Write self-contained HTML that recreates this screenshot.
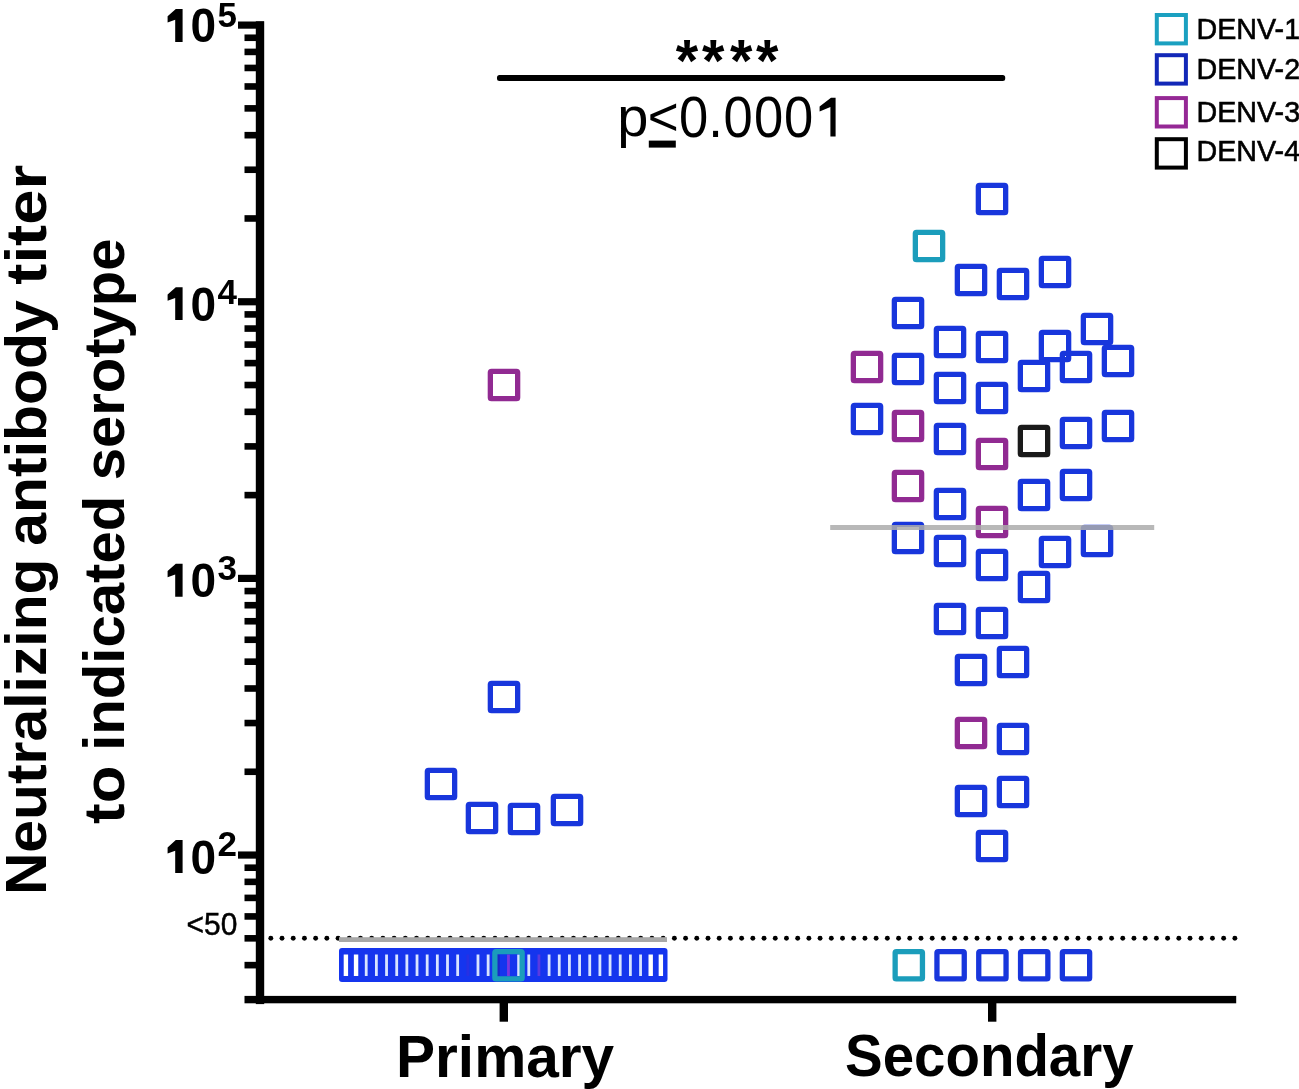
<!DOCTYPE html>
<html><head><meta charset="utf-8"><title>Neutralizing antibody titer</title>
<style>html,body{margin:0;padding:0;background:#fff;}body{width:1299px;height:1089px;position:relative;overflow:hidden;font-family:"Liberation Sans",sans-serif}</style>
</head><body>
<div style="position:absolute;left:0;top:0;width:1299px;height:1089px;filter:blur(0.4px)">
<svg width="1299" height="1089" viewBox="0 0 1299 1089" style="position:absolute;left:0;top:0">
<rect x="255.8" y="21.3" width="8.4" height="982.8" fill="#000"/>
<rect x="238" y="851.45" width="26" height="7.2" fill="#000"/>
<rect x="238" y="574.80" width="26" height="7.2" fill="#000"/>
<rect x="238" y="298.15" width="26" height="7.2" fill="#000"/>
<rect x="238" y="21.50" width="26" height="7.2" fill="#000"/>
<rect x="244.5" y="961.84" width="19.5" height="6.6" fill="#000"/>
<rect x="244.5" y="935.03" width="19.5" height="6.6" fill="#000"/>
<rect x="244.5" y="913.12" width="19.5" height="6.6" fill="#000"/>
<rect x="244.5" y="894.60" width="19.5" height="6.6" fill="#000"/>
<rect x="244.5" y="878.56" width="19.5" height="6.6" fill="#000"/>
<rect x="244.5" y="864.41" width="19.5" height="6.6" fill="#000"/>
<rect x="244.5" y="768.47" width="19.5" height="6.6" fill="#000"/>
<rect x="244.5" y="719.75" width="19.5" height="6.6" fill="#000"/>
<rect x="244.5" y="685.19" width="19.5" height="6.6" fill="#000"/>
<rect x="244.5" y="658.38" width="19.5" height="6.6" fill="#000"/>
<rect x="244.5" y="636.47" width="19.5" height="6.6" fill="#000"/>
<rect x="244.5" y="617.95" width="19.5" height="6.6" fill="#000"/>
<rect x="244.5" y="601.91" width="19.5" height="6.6" fill="#000"/>
<rect x="244.5" y="587.76" width="19.5" height="6.6" fill="#000"/>
<rect x="244.5" y="491.82" width="19.5" height="6.6" fill="#000"/>
<rect x="244.5" y="443.10" width="19.5" height="6.6" fill="#000"/>
<rect x="244.5" y="408.54" width="19.5" height="6.6" fill="#000"/>
<rect x="244.5" y="381.73" width="19.5" height="6.6" fill="#000"/>
<rect x="244.5" y="359.82" width="19.5" height="6.6" fill="#000"/>
<rect x="244.5" y="341.30" width="19.5" height="6.6" fill="#000"/>
<rect x="244.5" y="325.26" width="19.5" height="6.6" fill="#000"/>
<rect x="244.5" y="311.11" width="19.5" height="6.6" fill="#000"/>
<rect x="244.5" y="215.17" width="19.5" height="6.6" fill="#000"/>
<rect x="244.5" y="166.45" width="19.5" height="6.6" fill="#000"/>
<rect x="244.5" y="131.89" width="19.5" height="6.6" fill="#000"/>
<rect x="244.5" y="105.08" width="19.5" height="6.6" fill="#000"/>
<rect x="244.5" y="83.17" width="19.5" height="6.6" fill="#000"/>
<rect x="244.5" y="64.65" width="19.5" height="6.6" fill="#000"/>
<rect x="244.5" y="48.61" width="19.5" height="6.6" fill="#000"/>
<rect x="244.5" y="34.46" width="19.5" height="6.6" fill="#000"/>
<rect x="244.5" y="995.9" width="991.7" height="7.4" fill="#000"/>
<rect x="499.6" y="1000" width="8.4" height="21.7" fill="#000"/>
<rect x="988.0" y="1000" width="8.4" height="21.7" fill="#000"/>
<g fill="#000"><circle cx="270.80" cy="938.2" r="2.45"/><circle cx="282.01" cy="938.2" r="2.45"/><circle cx="293.22" cy="938.2" r="2.45"/><circle cx="304.43" cy="938.2" r="2.45"/><circle cx="315.64" cy="938.2" r="2.45"/><circle cx="326.85" cy="938.2" r="2.45"/><circle cx="338.06" cy="938.2" r="2.45"/><circle cx="349.27" cy="938.2" r="2.45"/><circle cx="360.48" cy="938.2" r="2.45"/><circle cx="371.69" cy="938.2" r="2.45"/><circle cx="382.90" cy="938.2" r="2.45"/><circle cx="394.11" cy="938.2" r="2.45"/><circle cx="405.32" cy="938.2" r="2.45"/><circle cx="416.53" cy="938.2" r="2.45"/><circle cx="427.74" cy="938.2" r="2.45"/><circle cx="438.95" cy="938.2" r="2.45"/><circle cx="450.16" cy="938.2" r="2.45"/><circle cx="461.37" cy="938.2" r="2.45"/><circle cx="472.58" cy="938.2" r="2.45"/><circle cx="483.79" cy="938.2" r="2.45"/><circle cx="495.00" cy="938.2" r="2.45"/><circle cx="506.21" cy="938.2" r="2.45"/><circle cx="517.42" cy="938.2" r="2.45"/><circle cx="528.63" cy="938.2" r="2.45"/><circle cx="539.84" cy="938.2" r="2.45"/><circle cx="551.05" cy="938.2" r="2.45"/><circle cx="562.26" cy="938.2" r="2.45"/><circle cx="573.47" cy="938.2" r="2.45"/><circle cx="584.68" cy="938.2" r="2.45"/><circle cx="595.89" cy="938.2" r="2.45"/><circle cx="607.10" cy="938.2" r="2.45"/><circle cx="618.31" cy="938.2" r="2.45"/><circle cx="629.52" cy="938.2" r="2.45"/><circle cx="640.73" cy="938.2" r="2.45"/><circle cx="651.94" cy="938.2" r="2.45"/><circle cx="663.15" cy="938.2" r="2.45"/><circle cx="674.36" cy="938.2" r="2.45"/><circle cx="685.57" cy="938.2" r="2.45"/><circle cx="696.78" cy="938.2" r="2.45"/><circle cx="707.99" cy="938.2" r="2.45"/><circle cx="719.20" cy="938.2" r="2.45"/><circle cx="730.41" cy="938.2" r="2.45"/><circle cx="741.62" cy="938.2" r="2.45"/><circle cx="752.83" cy="938.2" r="2.45"/><circle cx="764.04" cy="938.2" r="2.45"/><circle cx="775.25" cy="938.2" r="2.45"/><circle cx="786.46" cy="938.2" r="2.45"/><circle cx="797.67" cy="938.2" r="2.45"/><circle cx="808.88" cy="938.2" r="2.45"/><circle cx="820.09" cy="938.2" r="2.45"/><circle cx="831.30" cy="938.2" r="2.45"/><circle cx="842.51" cy="938.2" r="2.45"/><circle cx="853.72" cy="938.2" r="2.45"/><circle cx="864.93" cy="938.2" r="2.45"/><circle cx="876.14" cy="938.2" r="2.45"/><circle cx="887.35" cy="938.2" r="2.45"/><circle cx="898.56" cy="938.2" r="2.45"/><circle cx="909.77" cy="938.2" r="2.45"/><circle cx="920.98" cy="938.2" r="2.45"/><circle cx="932.19" cy="938.2" r="2.45"/><circle cx="943.40" cy="938.2" r="2.45"/><circle cx="954.61" cy="938.2" r="2.45"/><circle cx="965.82" cy="938.2" r="2.45"/><circle cx="977.03" cy="938.2" r="2.45"/><circle cx="988.24" cy="938.2" r="2.45"/><circle cx="999.45" cy="938.2" r="2.45"/><circle cx="1010.66" cy="938.2" r="2.45"/><circle cx="1021.87" cy="938.2" r="2.45"/><circle cx="1033.08" cy="938.2" r="2.45"/><circle cx="1044.29" cy="938.2" r="2.45"/><circle cx="1055.50" cy="938.2" r="2.45"/><circle cx="1066.71" cy="938.2" r="2.45"/><circle cx="1077.92" cy="938.2" r="2.45"/><circle cx="1089.13" cy="938.2" r="2.45"/><circle cx="1100.34" cy="938.2" r="2.45"/><circle cx="1111.55" cy="938.2" r="2.45"/><circle cx="1122.76" cy="938.2" r="2.45"/><circle cx="1133.97" cy="938.2" r="2.45"/><circle cx="1145.18" cy="938.2" r="2.45"/><circle cx="1156.39" cy="938.2" r="2.45"/><circle cx="1167.60" cy="938.2" r="2.45"/><circle cx="1178.81" cy="938.2" r="2.45"/><circle cx="1190.02" cy="938.2" r="2.45"/><circle cx="1201.23" cy="938.2" r="2.45"/><circle cx="1212.44" cy="938.2" r="2.45"/><circle cx="1223.65" cy="938.2" r="2.45"/><circle cx="1234.86" cy="938.2" r="2.45"/></g>
<rect x="339" y="937.2" width="328" height="4.8" fill="#a8a8a8"/>
<rect x="497" y="75.1" width="508.2" height="6" rx="2.5" fill="#000"/>
<rect x="978.35" y="185.35" width="27.3" height="27.3" rx="1.2" fill="none" stroke="#1836dc" stroke-width="5.3" stroke-linejoin="round"/>
<rect x="915.35" y="232.35" width="27.3" height="27.3" rx="1.2" fill="none" stroke="#1b9dbb" stroke-width="5.3" stroke-linejoin="round"/>
<rect x="957.35" y="266.35" width="27.3" height="27.3" rx="1.2" fill="none" stroke="#1836dc" stroke-width="5.3" stroke-linejoin="round"/>
<rect x="999.35" y="270.35" width="27.3" height="27.3" rx="1.2" fill="none" stroke="#1836dc" stroke-width="5.3" stroke-linejoin="round"/>
<rect x="1041.35" y="258.35" width="27.3" height="27.3" rx="1.2" fill="none" stroke="#1836dc" stroke-width="5.3" stroke-linejoin="round"/>
<rect x="894.35" y="299.35" width="27.3" height="27.3" rx="1.2" fill="none" stroke="#1836dc" stroke-width="5.3" stroke-linejoin="round"/>
<rect x="936.35" y="328.35" width="27.3" height="27.3" rx="1.2" fill="none" stroke="#1836dc" stroke-width="5.3" stroke-linejoin="round"/>
<rect x="978.35" y="333.35" width="27.3" height="27.3" rx="1.2" fill="none" stroke="#1836dc" stroke-width="5.3" stroke-linejoin="round"/>
<rect x="1041.35" y="332.35" width="27.3" height="27.3" rx="1.2" fill="none" stroke="#1836dc" stroke-width="5.3" stroke-linejoin="round"/>
<rect x="1083.35" y="315.35" width="27.3" height="27.3" rx="1.2" fill="none" stroke="#1836dc" stroke-width="5.3" stroke-linejoin="round"/>
<rect x="853.35" y="353.35" width="27.3" height="27.3" rx="1.2" fill="none" stroke="#912a92" stroke-width="5.3" stroke-linejoin="round"/>
<rect x="894.35" y="355.35" width="27.3" height="27.3" rx="1.2" fill="none" stroke="#1836dc" stroke-width="5.3" stroke-linejoin="round"/>
<rect x="1020.35" y="362.35" width="27.3" height="27.3" rx="1.2" fill="none" stroke="#1836dc" stroke-width="5.3" stroke-linejoin="round"/>
<rect x="1062.35" y="353.35" width="27.3" height="27.3" rx="1.2" fill="none" stroke="#1836dc" stroke-width="5.3" stroke-linejoin="round"/>
<rect x="1104.35" y="347.35" width="27.3" height="27.3" rx="1.2" fill="none" stroke="#1836dc" stroke-width="5.3" stroke-linejoin="round"/>
<rect x="936.35" y="374.35" width="27.3" height="27.3" rx="1.2" fill="none" stroke="#1836dc" stroke-width="5.3" stroke-linejoin="round"/>
<rect x="978.35" y="384.35" width="27.3" height="27.3" rx="1.2" fill="none" stroke="#1836dc" stroke-width="5.3" stroke-linejoin="round"/>
<rect x="853.35" y="405.35" width="27.3" height="27.3" rx="1.2" fill="none" stroke="#1836dc" stroke-width="5.3" stroke-linejoin="round"/>
<rect x="894.35" y="412.35" width="27.3" height="27.3" rx="1.2" fill="none" stroke="#912a92" stroke-width="5.3" stroke-linejoin="round"/>
<rect x="936.35" y="425.35" width="27.3" height="27.3" rx="1.2" fill="none" stroke="#1836dc" stroke-width="5.3" stroke-linejoin="round"/>
<rect x="978.35" y="440.35" width="27.3" height="27.3" rx="1.2" fill="none" stroke="#912a92" stroke-width="5.3" stroke-linejoin="round"/>
<rect x="1020.35" y="427.35" width="27.3" height="27.3" rx="1.2" fill="none" stroke="#1a1a1a" stroke-width="5.3" stroke-linejoin="round"/>
<rect x="1062.35" y="419.35" width="27.3" height="27.3" rx="1.2" fill="none" stroke="#1836dc" stroke-width="5.3" stroke-linejoin="round"/>
<rect x="1104.35" y="412.35" width="27.3" height="27.3" rx="1.2" fill="none" stroke="#1836dc" stroke-width="5.3" stroke-linejoin="round"/>
<rect x="894.35" y="472.35" width="27.3" height="27.3" rx="1.2" fill="none" stroke="#912a92" stroke-width="5.3" stroke-linejoin="round"/>
<rect x="936.35" y="490.35" width="27.3" height="27.3" rx="1.2" fill="none" stroke="#1836dc" stroke-width="5.3" stroke-linejoin="round"/>
<rect x="1020.35" y="481.35" width="27.3" height="27.3" rx="1.2" fill="none" stroke="#1836dc" stroke-width="5.3" stroke-linejoin="round"/>
<rect x="1062.35" y="471.35" width="27.3" height="27.3" rx="1.2" fill="none" stroke="#1836dc" stroke-width="5.3" stroke-linejoin="round"/>
<rect x="978.35" y="508.35" width="27.3" height="27.3" rx="1.2" fill="none" stroke="#912a92" stroke-width="5.3" stroke-linejoin="round"/>
<rect x="894.35" y="524.35" width="27.3" height="27.3" rx="1.2" fill="none" stroke="#1836dc" stroke-width="5.3" stroke-linejoin="round"/>
<rect x="936.35" y="537.35" width="27.3" height="27.3" rx="1.2" fill="none" stroke="#1836dc" stroke-width="5.3" stroke-linejoin="round"/>
<rect x="978.35" y="551.35" width="27.3" height="27.3" rx="1.2" fill="none" stroke="#1836dc" stroke-width="5.3" stroke-linejoin="round"/>
<rect x="1041.35" y="538.35" width="27.3" height="27.3" rx="1.2" fill="none" stroke="#1836dc" stroke-width="5.3" stroke-linejoin="round"/>
<rect x="1083.35" y="527.35" width="27.3" height="27.3" rx="1.2" fill="none" stroke="#1836dc" stroke-width="5.3" stroke-linejoin="round"/>
<rect x="1020.35" y="573.35" width="27.3" height="27.3" rx="1.2" fill="none" stroke="#1836dc" stroke-width="5.3" stroke-linejoin="round"/>
<rect x="936.35" y="605.35" width="27.3" height="27.3" rx="1.2" fill="none" stroke="#1836dc" stroke-width="5.3" stroke-linejoin="round"/>
<rect x="978.35" y="609.35" width="27.3" height="27.3" rx="1.2" fill="none" stroke="#1836dc" stroke-width="5.3" stroke-linejoin="round"/>
<rect x="957.35" y="656.35" width="27.3" height="27.3" rx="1.2" fill="none" stroke="#1836dc" stroke-width="5.3" stroke-linejoin="round"/>
<rect x="999.35" y="648.35" width="27.3" height="27.3" rx="1.2" fill="none" stroke="#1836dc" stroke-width="5.3" stroke-linejoin="round"/>
<rect x="957.35" y="719.35" width="27.3" height="27.3" rx="1.2" fill="none" stroke="#912a92" stroke-width="5.3" stroke-linejoin="round"/>
<rect x="999.35" y="725.35" width="27.3" height="27.3" rx="1.2" fill="none" stroke="#1836dc" stroke-width="5.3" stroke-linejoin="round"/>
<rect x="957.35" y="787.35" width="27.3" height="27.3" rx="1.2" fill="none" stroke="#1836dc" stroke-width="5.3" stroke-linejoin="round"/>
<rect x="999.35" y="778.35" width="27.3" height="27.3" rx="1.2" fill="none" stroke="#1836dc" stroke-width="5.3" stroke-linejoin="round"/>
<rect x="978.35" y="832.35" width="27.3" height="27.3" rx="1.2" fill="none" stroke="#1836dc" stroke-width="5.3" stroke-linejoin="round"/>
<rect x="895.15" y="951.55" width="27.3" height="27.3" rx="1.2" fill="none" stroke="#1b9dbb" stroke-width="5.3" stroke-linejoin="round"/>
<rect x="936.95" y="951.55" width="27.3" height="27.3" rx="1.2" fill="none" stroke="#1836dc" stroke-width="5.3" stroke-linejoin="round"/>
<rect x="978.75" y="951.55" width="27.3" height="27.3" rx="1.2" fill="none" stroke="#1836dc" stroke-width="5.3" stroke-linejoin="round"/>
<rect x="1020.55" y="951.55" width="27.3" height="27.3" rx="1.2" fill="none" stroke="#1836dc" stroke-width="5.3" stroke-linejoin="round"/>
<rect x="1062.35" y="951.55" width="27.3" height="27.3" rx="1.2" fill="none" stroke="#1836dc" stroke-width="5.3" stroke-linejoin="round"/>
<rect x="490.35" y="371.35" width="27.3" height="27.3" rx="1.2" fill="none" stroke="#912a92" stroke-width="5.3" stroke-linejoin="round"/>
<rect x="490.35" y="683.35" width="27.3" height="27.3" rx="1.2" fill="none" stroke="#1836dc" stroke-width="5.3" stroke-linejoin="round"/>
<rect x="427.35" y="770.35" width="27.3" height="27.3" rx="1.2" fill="none" stroke="#1836dc" stroke-width="5.3" stroke-linejoin="round"/>
<rect x="468.35" y="804.35" width="27.3" height="27.3" rx="1.2" fill="none" stroke="#1836dc" stroke-width="5.3" stroke-linejoin="round"/>
<rect x="510.35" y="805.35" width="27.3" height="27.3" rx="1.2" fill="none" stroke="#1836dc" stroke-width="5.3" stroke-linejoin="round"/>
<rect x="553.35" y="796.35" width="27.3" height="27.3" rx="1.2" fill="none" stroke="#1836dc" stroke-width="5.3" stroke-linejoin="round"/>
<rect x="339" y="948.1" width="328.5" height="34" rx="3" fill="#1535ee"/>
<rect x="343.70" y="954.5" width="4.4" height="21.5" fill="#ffffff"/><rect x="353.86" y="954.5" width="4.4" height="21.5" fill="#ffffff"/><rect x="364.82" y="954.5" width="2.8" height="21.5" fill="#d8e4ff"/><rect x="374.98" y="954.5" width="2.8" height="21.5" fill="#d8e4ff"/><rect x="385.14" y="954.5" width="2.8" height="21.5" fill="#d8e4ff"/><rect x="395.30" y="954.5" width="2.8" height="21.5" fill="#d8e4ff"/><rect x="405.46" y="954.5" width="2.8" height="21.5" fill="#d8e4ff"/><rect x="415.62" y="954.5" width="2.8" height="21.5" fill="#d8e4ff"/><rect x="425.78" y="954.5" width="2.8" height="21.5" fill="#d8e4ff"/><rect x="435.94" y="954.5" width="2.8" height="21.5" fill="#d8e4ff"/><rect x="446.10" y="954.5" width="2.8" height="21.5" fill="#d8e4ff"/><rect x="456.26" y="954.5" width="2.8" height="21.5" fill="#d8e4ff"/><rect x="466.42" y="954.5" width="2.8" height="21.5" fill="#2630e4"/><rect x="476.58" y="954.5" width="2.8" height="21.5" fill="#d8e4ff"/><rect x="486.74" y="954.5" width="2.8" height="21.5" fill="#d8e4ff"/><rect x="496.90" y="954.5" width="2.8" height="21.5" fill="#1a2ac8"/><rect x="507.06" y="954.5" width="2.8" height="21.5" fill="#7a36e0"/><rect x="517.22" y="954.5" width="2.8" height="21.5" fill="#d8e4ff"/><rect x="527.38" y="954.5" width="2.8" height="21.5" fill="#d8e4ff"/><rect x="537.54" y="954.5" width="2.8" height="21.5" fill="#5a3ae0"/><rect x="547.70" y="954.5" width="2.8" height="21.5" fill="#d8e4ff"/><rect x="557.86" y="954.5" width="2.8" height="21.5" fill="#d8e4ff"/><rect x="568.02" y="954.5" width="2.8" height="21.5" fill="#d8e4ff"/><rect x="578.18" y="954.5" width="2.8" height="21.5" fill="#d8e4ff"/><rect x="588.34" y="954.5" width="2.8" height="21.5" fill="#d8e4ff"/><rect x="598.50" y="954.5" width="2.8" height="21.5" fill="#d8e4ff"/><rect x="608.66" y="954.5" width="2.8" height="21.5" fill="#d8e4ff"/><rect x="618.82" y="954.5" width="2.8" height="21.5" fill="#d8e4ff"/><rect x="628.98" y="954.5" width="2.8" height="21.5" fill="#d8e4ff"/><rect x="639.14" y="954.5" width="2.8" height="21.5" fill="#d8e4ff"/><rect x="648.50" y="954.5" width="4.4" height="21.5" fill="#ffffff"/><rect x="658.66" y="954.5" width="4.4" height="21.5" fill="#ffffff"/>
<rect x="494.85" y="951.55" width="27.3" height="27.3" rx="1.2" fill="none" stroke="#1b9dbb" stroke-width="5.3" stroke-linejoin="round"/>
<rect x="830.2" y="525" width="324" height="5" fill="#ababab" fill-opacity="0.85"/>
</svg>
<svg width="1299" height="1089" viewBox="0 0 1299 1089" style="position:absolute;left:0;top:0" font-family="Liberation Sans, sans-serif">
<path d="M175.8,9.0 L182.6,9.0 L182.6,41.9 L175.2,41.9 L175.2,19.7 L167.6,22.5 L167.6,16.3 Z" fill="#000"/>
<text x="190.6" y="42.4" font-size="48.5" font-weight="bold" textLength="25.62" lengthAdjust="spacingAndGlyphs">0</text>
<text x="217.6" y="26.8" font-size="35" font-weight="bold">5</text>
<path d="M175.8,287.2 L182.6,287.2 L182.6,320.1 L175.2,320.1 L175.2,297.9 L167.6,300.7 L167.6,294.5 Z" fill="#000"/>
<text x="190.6" y="320.6" font-size="48.5" font-weight="bold" textLength="25.62" lengthAdjust="spacingAndGlyphs">0</text>
<text x="217.6" y="303.7" font-size="35" font-weight="bold">4</text>
<path d="M175.8,563.8 L182.6,563.8 L182.6,596.7 L175.2,596.7 L175.2,574.5 L167.6,577.3 L167.6,571.1 Z" fill="#000"/>
<text x="190.6" y="597.2" font-size="48.5" font-weight="bold" textLength="25.62" lengthAdjust="spacingAndGlyphs">0</text>
<text x="217.6" y="579.7" font-size="35" font-weight="bold">3</text>
<path d="M175.8,840.1 L182.6,840.1 L182.6,873 L175.2,873 L175.2,850.8 L167.6,853.6 L167.6,847.4 Z" fill="#000"/>
<text x="190.6" y="873.5" font-size="48.5" font-weight="bold" textLength="25.62" lengthAdjust="spacingAndGlyphs">0</text>
<text x="217.6" y="856.3" font-size="35" font-weight="bold">2</text>
<text x="186.6" y="935" font-size="31" textLength="50.8" lengthAdjust="spacingAndGlyphs" stroke="#000" stroke-width="0.5">&lt;50</text>
<text x="675.80" y="81.2" font-size="59.7" font-weight="bold" textLength="22.41" lengthAdjust="spacingAndGlyphs">*</text>
<text x="702.00" y="81.2" font-size="59.7" font-weight="bold" textLength="22.41" lengthAdjust="spacingAndGlyphs">*</text>
<text x="730.00" y="81.2" font-size="59.7" font-weight="bold" textLength="22.41" lengthAdjust="spacingAndGlyphs">*</text>
<text x="755.90" y="81.2" font-size="59.7" font-weight="bold" textLength="22.41" lengthAdjust="spacingAndGlyphs">*</text>
<text x="617.2" y="135.9" font-size="56">p</text>
<text x="647.8" y="134.5" font-size="53">&lt;</text>
<rect x="648.8" y="140.6" width="27" height="7" fill="#000"/>
<text x="679.00" y="136.9" font-size="56.5" textLength="29.22" lengthAdjust="spacingAndGlyphs">0</text>
<text x="723.40" y="136.9" font-size="56.5" textLength="29.22" lengthAdjust="spacingAndGlyphs">0</text>
<text x="753.90" y="136.9" font-size="56.5" textLength="29.22" lengthAdjust="spacingAndGlyphs">0</text>
<text x="784.00" y="136.9" font-size="56.5" textLength="29.22" lengthAdjust="spacingAndGlyphs">0</text>
<text x="708.27" y="136.7" font-size="56.5" textLength="14.61" lengthAdjust="spacingAndGlyphs">.</text>
<path d="M831.0,97.8 L835.6,97.8 L835.6,136.5 L830.4,136.5 L830.4,106.9 L819.6,111.6 L819.6,106.6 Z" fill="#000"/>
<text transform="translate(46,895.12) rotate(-90)" font-size="57.5" font-weight="bold" textLength="336.67" lengthAdjust="spacingAndGlyphs">Neutralizing</text>
<text transform="translate(46,545.77) rotate(-90)" font-size="57.5" font-weight="bold" textLength="245.63" lengthAdjust="spacingAndGlyphs">antibody</text>
<text transform="translate(46,284.63) rotate(-90)" font-size="57.5" font-weight="bold" textLength="119.84" lengthAdjust="spacingAndGlyphs">titer</text>
<text transform="translate(124,823.92) rotate(-90)" font-size="57.5" font-weight="bold" textLength="58.32" lengthAdjust="spacingAndGlyphs">to</text>
<text transform="translate(124,750.87) rotate(-90)" font-size="57.5" font-weight="bold" textLength="255.19" lengthAdjust="spacingAndGlyphs">indicated</text>
<text transform="translate(124,480.22) rotate(-90)" font-size="57.5" font-weight="bold" textLength="241.73" lengthAdjust="spacingAndGlyphs">serotype</text>
<text x="396" y="1077.1" font-size="60" font-weight="bold" textLength="218.2" lengthAdjust="spacingAndGlyphs">Primary</text>
<text x="845" y="1076.4" font-size="60" font-weight="bold" textLength="288.6" lengthAdjust="spacingAndGlyphs">Secondary</text>
<rect x="1156.8" y="15.0" width="29.1" height="28.4" fill="none" stroke="#1ba0c0" stroke-width="4"/>
<text x="1196.5" y="39.4" font-size="29.5" textLength="103.6" lengthAdjust="spacingAndGlyphs" stroke="#000" stroke-width="0.6">DENV-1</text>
<rect x="1156.8" y="55.2" width="29.1" height="28.4" fill="none" stroke="#1228b8" stroke-width="4"/>
<text x="1196.5" y="79.3" font-size="29.5" textLength="103.6" lengthAdjust="spacingAndGlyphs" stroke="#000" stroke-width="0.6">DENV-2</text>
<rect x="1156.8" y="98.1" width="29.1" height="28.4" fill="none" stroke="#952895" stroke-width="4"/>
<text x="1196.5" y="122.3" font-size="29.5" textLength="103.6" lengthAdjust="spacingAndGlyphs" stroke="#000" stroke-width="0.6">DENV-3</text>
<rect x="1156.8" y="139.2" width="29.1" height="28.4" fill="none" stroke="#000000" stroke-width="4"/>
<text x="1196.5" y="160.5" font-size="29.5" textLength="103.6" lengthAdjust="spacingAndGlyphs" stroke="#000" stroke-width="0.6">DENV-4</text>
</svg>
</div>
</body></html>
